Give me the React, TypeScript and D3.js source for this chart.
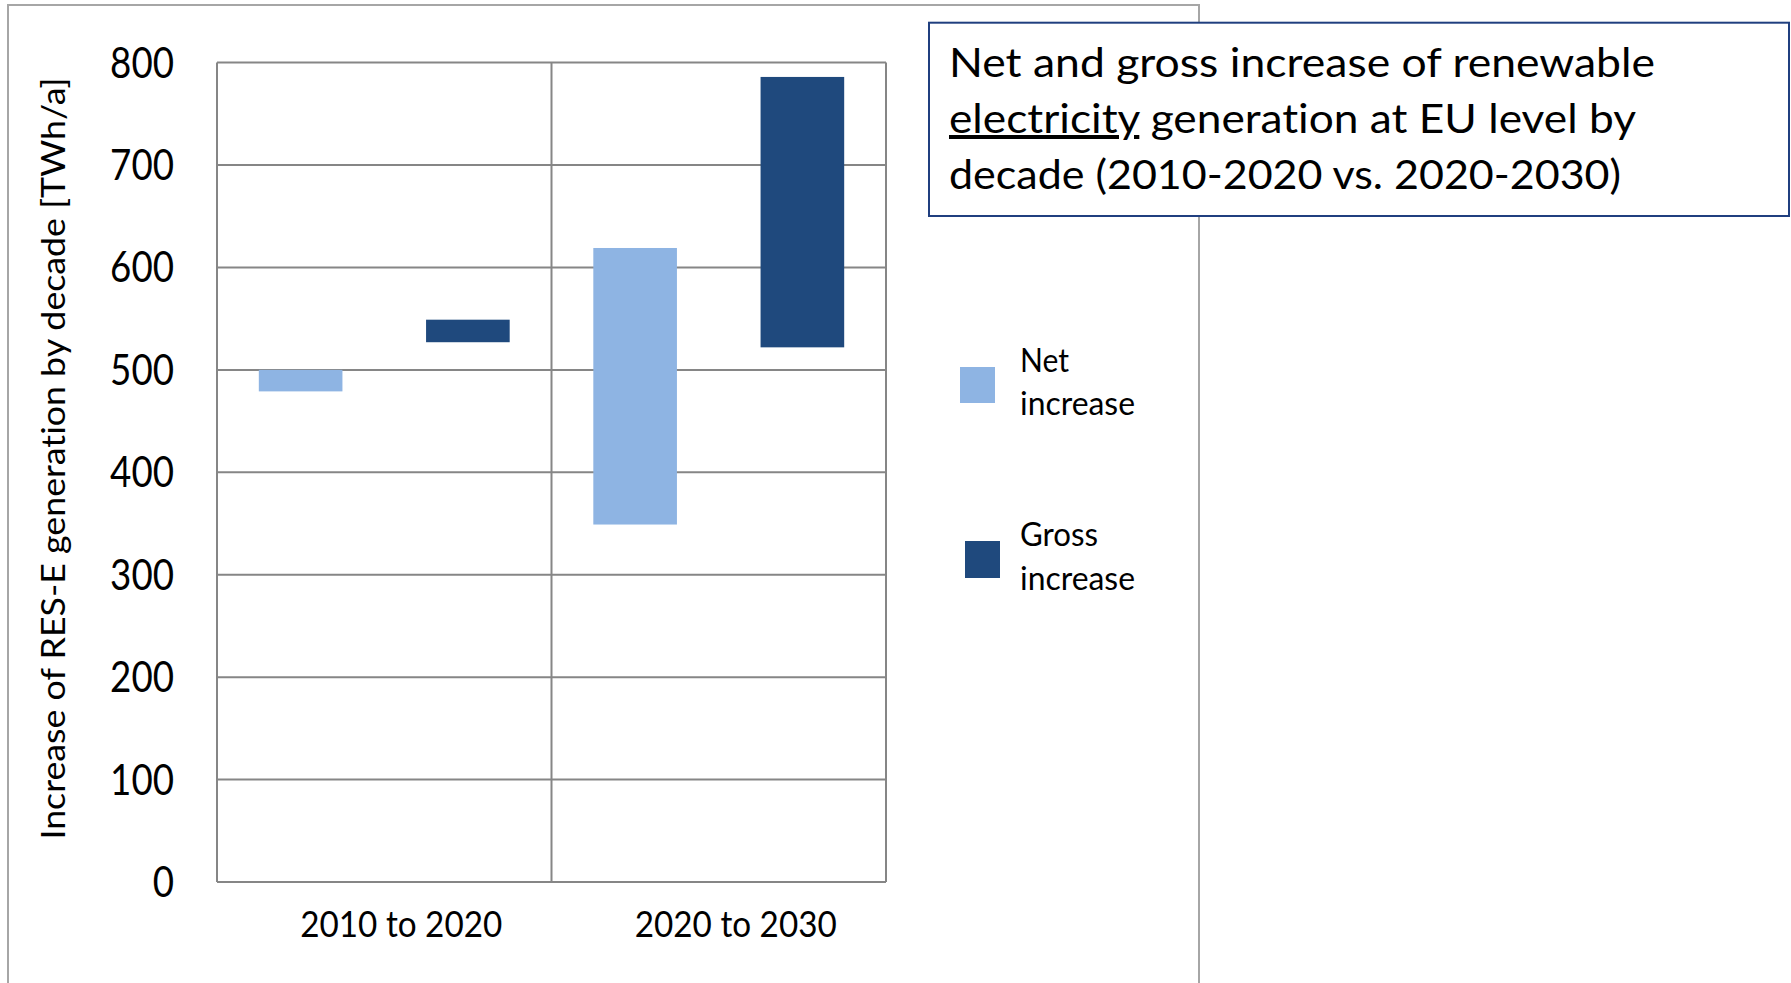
import React from "react";
import * as d3 from "d3";

const categories = ["2010 to 2020", "2020 to 2030"];
const seriesNames = ["Net increase", "Gross increase"];
const netLow = [479, 349];
const netHigh = [500, 619];
const grossLow = [527, 522];
const grossHigh = [549, 786];
const yTicks = [0, 100, 200, 300, 400, 500, 600, 700, 800];
const titleLines = [
  "Net and gross increase of renewable",
  "electricity generation at EU level by",
  "decade (2010-2020 vs. 2020-2030)",
];
const yTitle = "Increase of RES-E generation by decade [TWh/a]";

const colors = ["#8EB4E3", "#1F497D"];
const FONT = "Lato, 'Open Sans', 'DejaVu Sans', sans-serif";

export default function App() {
  const W = 1791;
  const H = 983;
  const left = 217;
  const right = 886;
  const top = 62.6;
  const bottom = 882;

  const x = d3.scaleBand<string>().domain(categories).range([left, right]).padding(0);
  const sub = d3
    .scaleBand<string>()
    .domain(seriesNames)
    .range([0, x.bandwidth()])
    .paddingInner(0.5)
    .paddingOuter(0.25);
  const y = d3.scaleLinear().domain([0, 800]).range([bottom, top]);

  const bars: { cat: string; s: string; lo: number; hi: number; color: string }[] = [];
  categories.forEach((c, i) => {
    bars.push({ cat: c, s: seriesNames[0], lo: netLow[i], hi: netHigh[i], color: colors[0] });
    bars.push({ cat: c, s: seriesNames[1], lo: grossLow[i], hi: grossHigh[i], color: colors[1] });
  });

  const gridColor = "#868686";
  const vLines = [left, ...categories.slice(1).map((c) => x(c) as number), right];

  const titleWidths = [706, 687, 672];
  const legendItems = [
    { color: colors[0], sx: 960, sy: 367, sw: 35, sh: 36, l1: "Net", w1: 49, b1: 372, l2: "increase", w2: 115, b2: 415 },
    { color: colors[1], sx: 965, sy: 541, sw: 35, sh: 37, l1: "Gross", w1: 78, b1: 546, l2: "increase", w2: 115, b2: 590 },
  ];

  return (
    <svg
      width={W}
      height={H}
      style={{ position: "absolute", left: 0, top: 0, background: "#fff", fontVariantLigatures: "none" }}
      fontFamily={FONT}
    >
      <rect x={0} y={0} width={W} height={H} fill="#fff" />
      {/* outer chart frame */}
      <rect x={8} y={5} width={1191} height={1100} fill="#fff" stroke="#A6A6A6" strokeWidth={2} />

      {/* horizontal gridlines */}
      {yTicks.map((t) => (
        <line key={"h" + t} x1={left} x2={right} y1={y(t)} y2={y(t)} stroke={gridColor} strokeWidth={2} />
      ))}
      {/* vertical lines */}
      {vLines.map((vx, i) => (
        <line key={"v" + i} x1={vx} x2={vx} y1={top} y2={bottom} stroke={gridColor} strokeWidth={2} />
      ))}

      {/* bars */}
      {bars.map((b, i) => (
        <rect
          key={"b" + i}
          x={(x(b.cat) as number) + (sub(b.s) as number)}
          y={y(b.hi)}
          width={sub.bandwidth()}
          height={y(b.lo) - y(b.hi)}
          fill={b.color}
        />
      ))}

      {/* y tick labels */}
      {yTicks.map((t) => {
        const s = String(t);
        return (
          <text
            key={"yt" + t}
            x={174}
            y={y(t) + 15}
            textAnchor="end"
            fontSize={42}
            textLength={21.3 * s.length}
            lengthAdjust="spacingAndGlyphs"
            fill="#000"
          >
            {s}
          </text>
        );
      })}

      {/* x labels */}
      {categories.map((c) => (
        <text
          key={"xl" + c}
          x={(x(c) as number) + x.bandwidth() / 2 + 17}
          y={937}
          textAnchor="middle"
          fontSize={36}
          textLength={202}
          lengthAdjust="spacingAndGlyphs"
          fill="#000"
        >
          {c}
        </text>
      ))}

      {/* y axis title */}
      <text
        transform={`translate(65, ${458.6}) rotate(-90)`}
        textAnchor="middle"
        fontSize={32}
        textLength={762}
        lengthAdjust="spacingAndGlyphs"
        fill="#000"
      >
        {yTitle}
      </text>

      {/* legend */}
      {legendItems.map((l, i) => (
        <g key={"lg" + i}>
          <rect x={l.sx} y={l.sy} width={l.sw} height={l.sh} fill={l.color} />
          <text x={1020} y={l.b1} fontSize={32} textLength={l.w1} lengthAdjust="spacingAndGlyphs" fill="#000">
            {l.l1}
          </text>
          <text x={1020} y={l.b2} fontSize={32} textLength={l.w2} lengthAdjust="spacingAndGlyphs" fill="#000">
            {l.l2}
          </text>
        </g>
      ))}

      {/* title box */}
      <rect x={929} y={22.7} width={860} height={193.3} fill="#fff" stroke="#203F7F" strokeWidth={2} />
      <text x={949} y={77} fontSize={40} textLength={titleWidths[0]} lengthAdjust="spacingAndGlyphs" fill="#000">
        {titleLines[0]}
      </text>
      <text x={949} y={133} fontSize={40} textLength={titleWidths[1]} lengthAdjust="spacingAndGlyphs" fill="#000">
        <tspan textDecoration="underline" style={{ textDecoration: "underline" }}>
          {titleLines[1].slice(0, 11)}
        </tspan>
        <tspan>{titleLines[1].slice(11)}</tspan>
      </text>
      <text x={949} y={189} fontSize={40} textLength={titleWidths[2]} lengthAdjust="spacingAndGlyphs" fill="#000">
        {titleLines[2]}
      </text>
    </svg>
  );
}
